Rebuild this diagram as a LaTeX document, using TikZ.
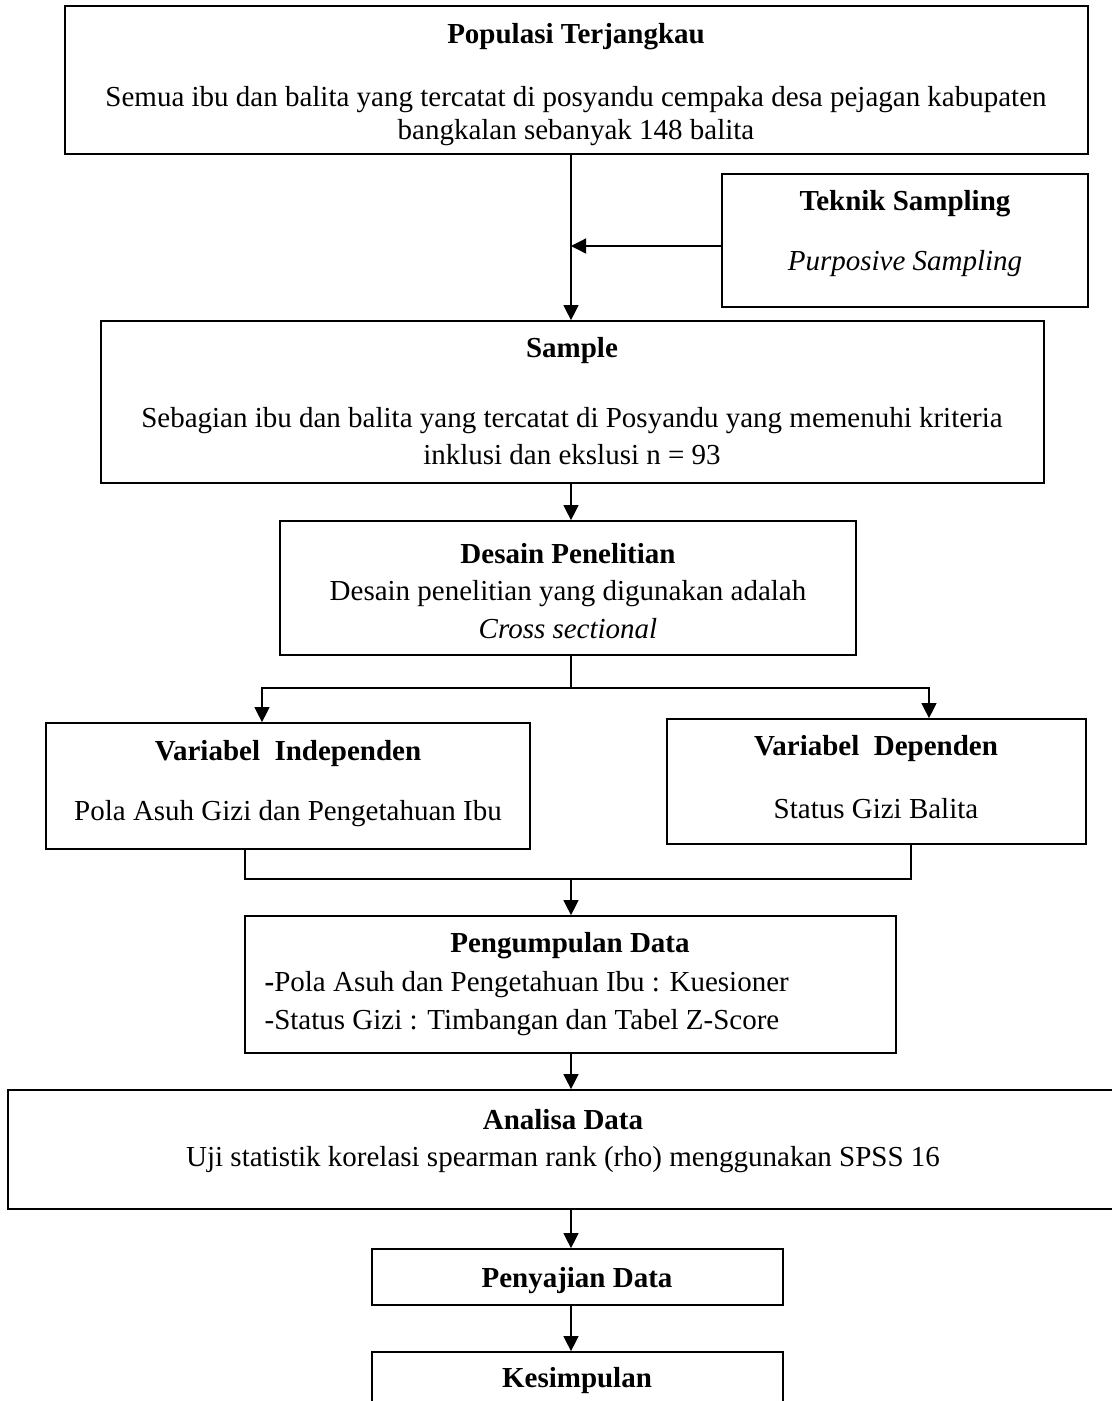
\documentclass[tikz,border=0pt]{standalone}
\usepackage{fontspec}
\setmainfont{Liberation Serif}
\usetikzlibrary{
    arrows.meta,
    positioning
}

\begin{document}
\begin{tikzpicture} [x=0.02cm,y=-0.02cm,
    box/.style={draw,line width=1pt,inner sep=0pt},
    txt/.style={inner sep=0pt,align=center,font=\fontsize{16.5}{21.5}\selectfont},
    head/.style={txt,font=\fontsize{16.5}{21.5}\selectfont\bfseries},
    flow/.style={-{Triangle[length=0.3cm,width=0.3cm]}},
    line width=0.75pt]
    \useasboundingbox (0,0) rectangle (1112,1401);

    % boxes
    \node[box,minimum width=20.46cm,minimum height=2.96cm] (populasi) at (576.5,80) {};
    \node[box,minimum width=7.32cm,minimum height=2.66cm]  (teknik)   at (905,240.5) {};
    \node[box,minimum width=18.86cm,minimum height=3.24cm] (sample)   at (572.5,402) {};
    \node[box,minimum width=11.52cm,minimum height=2.68cm] (desain)   at (568,588) {};
    \node[box,minimum width=9.68cm,minimum height=2.52cm]  (indep)    at (288,786) {};
    \node[box,minimum width=8.38cm,minimum height=2.5cm]   (dep)      at (876.5,781.5) {};
    \node[box,minimum width=13.02cm,minimum height=2.74cm] (kumpul)   at (570.5,984.5) {};
    \node[box,minimum width=22.24cm,minimum height=2.38cm] (analisa)  at (564,1149.5) {};
    \node[box,minimum width=8.22cm,minimum height=1.12cm]  (sajian)   at (577.5,1277) {};
    \node[box,minimum width=8.22cm,minimum height=1.56cm]  (simpul)   at (577.5,1391) {};

    % texts
    \node[head] (populasi-h) at (576,37) {Populasi Terjangkau};
    \node[txt]  (populasi-b) at (576,116) {Semua ibu dan balita yang tercatat di posyandu cempaka desa pejagan kabupaten\\[-2.6pt]
        bangkalan sebanyak 148 balita};
    \node[head] (teknik-h) at (905,204) {Teknik Sampling};
    \node[txt]  (teknik-b) at (905,264) {\itshape Purposive Sampling};
    \node[head] (sample-h) at (572,351) {Sample};
    \node[txt]  (sample-b) at (572,436) {Sebagian ibu dan balita yang tercatat di Posyandu yang memenuhi kriteria\\
        inklusi dan ekslusi n = 93};
    \node[txt]  (desain-t) at (568,591) {\bfseries Desain Penelitian\\
        Desain penelitian yang digunakan adalah\\ \itshape Cross sectional};
    \node[head] (indep-h) at (288,754) {Variabel \ Independen};
    \node[txt]  (indep-b) at (288,814) {Pola Asuh Gizi dan Pengetahuan Ibu};
    \node[head] (dep-h) at (876,749) {Variabel \ Dependen};
    \node[txt]  (dep-b) at (876,809) {Status Gizi Balita};
    \node[head] (kumpul-h) at (570,946) {Pengumpulan Data};
    \node[txt,align=left,anchor=west] (kumpul-b) at (264,1003.5) {{\bfseries -}Pola Asuh dan Pengetahuan Ibu : Kuesioner\\
        -Status Gizi : Timbangan dan Tabel Z-Score};
    \node[txt]  (analisa-t) at (563,1141) {\bfseries Analisa Data\\
        Uji statistik korelasi spearman rank (rho) menggunakan SPSS 16};
    \node[head] (sajian-t) at (577,1281) {Penyajian Data};
    \node[head] (simpul-t) at (577,1381) {Kesimpulan};

    % connectors
    \coordinate (mainx) at (571,0);
    \coordinate (tsy) at (0,246);
    \coordinate (split) at (571,688);
    \coordinate (il) at (262,688);
    \coordinate (ir) at (929,688);
    \coordinate (ml) at (245,879);
    \coordinate (mr) at (911,879);
    \draw[flow] (populasi.south -| mainx) -- (sample.north -| mainx);
    \draw[flow] (teknik.west |- tsy) -- (mainx |- tsy);
    \draw[flow] (sample.south -| mainx) -- (desain.north -| mainx);
    \draw (desain.south -| split) -- (split);
    \draw[flow] (split) -- (il) -- (il |- indep.north);
    \draw[flow] (split) -- (ir) -- (ir |- dep.north);
    \draw (indep.south -| ml) -- (ml) -- (mr) -- (mr |- dep.south);
    \draw[flow] (mainx |- ml) -- (kumpul.north -| mainx);
    \draw[flow] (kumpul.south -| mainx) -- (analisa.north -| mainx);
    \draw[flow] (analisa.south -| mainx) -- (sajian.north -| mainx);
    \draw[flow] (sajian.south -| mainx) -- (simpul.north -| mainx);
\end{tikzpicture}
\end{document}
